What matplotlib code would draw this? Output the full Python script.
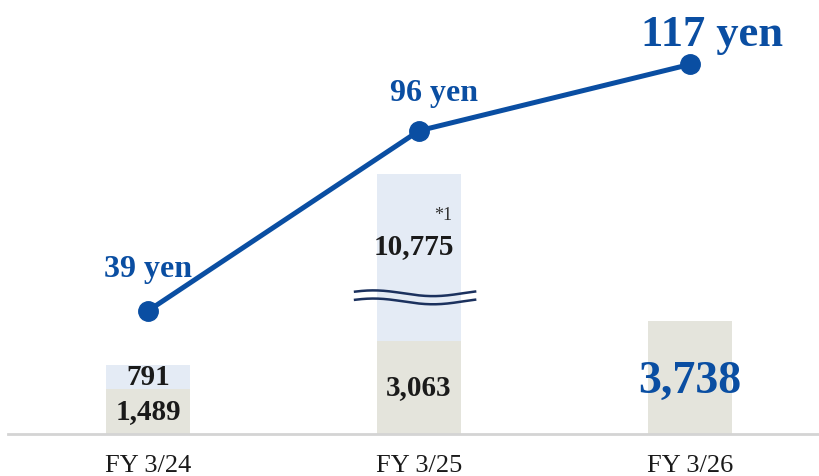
import numpy as np
import matplotlib.pyplot as plt

# -----------------------------
# Data
# -----------------------------
years = ["FY 3/24", "FY 3/25", "FY 3/26"]
dividend_yen = [39, 96, 117]
base_amount = [1489, 3063, 3738]
extra_amount = [791, 10775, 0]
base_labels = ["1,489", "3,063", "3,738"]
extra_labels = ["791", "10,775", ""]

# -----------------------------
# Styling
# -----------------------------
plt.rcParams["font.family"] = ["Liberation Serif", "DejaVu Serif"]
BLUE = "#0a4ea2"
LIGHT_BLUE = "#e4ebf5"
BEIGE = "#e4e4dc"
INK = "#1a1a1a"

BAR_TOP = 14370      # bar axis upper limit
LINE_TOP = 137.4     # dividend axis upper limit
BREAK_CAP = 8600     # tallest drawn stack, the rest is cut by the wave break

fig = plt.figure(figsize=(8.2, 4.76), dpi=100)
ax = fig.add_axes([8 / 820, 42 / 476, 812 / 820, 434 / 476])
ax2 = ax.twinx()

x = np.arange(len(years))
width = 0.31

# stacked bars, tall upper segment clipped at the break
extra_drawn = [min(b + e, BREAK_CAP) - b for b, e in zip(base_amount, extra_amount)]
ax.bar(x, base_amount, width, color=BEIGE, zorder=1)
ax.bar(x, extra_drawn, width, bottom=base_amount, color=LIGHT_BLUE, zorder=1)

# wave break over the second bar
wx = np.linspace(0.764, 1.207, 200)
wave = 95 * np.sin((wx - 0.764) / 0.44 * 2 * np.pi + 0.6)
for y0 in (4660, 4390):
    ax.plot(wx, y0 + wave, color="#1b315e", lw=1.8, zorder=3)

# bar value labels
for i in range(len(years)):
    if i == 2:
        ax.annotate(base_labels[i], (x[i], base_amount[i] / 2), xytext=(0, -3),
                    textcoords="offset points", ha="center", va="center",
                    fontsize=33, fontweight="bold", color=BLUE, zorder=4)
    else:
        ax.text(x[i], base_amount[i] / 2, base_labels[i], ha="center", va="center",
                fontsize=21, fontweight="bold", color=INK, zorder=4)
ax.text(x[0], base_amount[0] + extra_amount[0] / 2, extra_labels[0], ha="center",
        va="center", fontsize=21, fontweight="bold", color=INK, zorder=4)
ax.text(x[1] - 0.02, 6200, extra_labels[1], ha="center", va="center",
        fontsize=21, fontweight="bold", color=INK, zorder=4)
ax.text(x[1] + 0.09, 7220, "*1", ha="center", va="center", fontsize=13,
        color="#333333", zorder=4)

# dividend line
ax2.plot(x, dividend_yen, color=BLUE, lw=3.6, marker="o", markersize=14, zorder=5)
offsets = [(0, 30), (11, 27), (16, 21)]
sizes = [23, 23, 32]
for i, v in enumerate(dividend_yen):
    ax2.annotate(f"{v} yen", (x[i], v), xytext=offsets[i], textcoords="offset points",
                 ha="center", va="center", fontsize=sizes[i], fontweight="bold",
                 color=BLUE)

# axes
ax.set_xlim(-0.517, 2.48)
ax.set_ylim(0, BAR_TOP)
ax2.set_ylim(0, LINE_TOP)
ax.set_xticks(x)
ax.set_xticklabels(years, fontsize=19, color=INK)
ax.tick_params(axis="x", length=0, pad=15)
ax.set_yticks([])
ax2.set_yticks([])
for a in (ax, ax2):
    for side in ("top", "left", "right", "bottom"):
        a.spines[side].set_visible(False)
ax.spines["bottom"].set_visible(True)
ax.spines["bottom"].set_color("#d4d4d4")
ax.spines["bottom"].set_linewidth(2)
ax.patch.set_visible(False)

fig.savefig("out.png", dpi=100)
